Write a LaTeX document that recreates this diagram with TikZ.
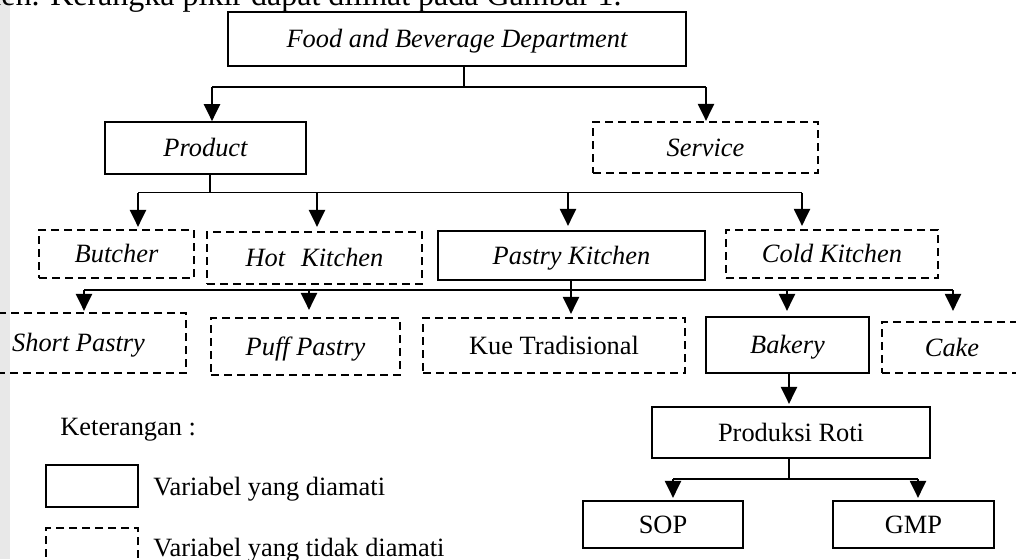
\documentclass[tikz,border=0pt]{standalone}
\usepackage{fontspec}
\setmainfont{Liberation Serif}
\usetikzlibrary{arrows.meta}
\begin{document}
\begin{tikzpicture}[x=0.5pt,y=-0.5pt,
  box/.style={draw, line width=1.1pt, inner sep=0pt, text height=8.7pt, text depth=0pt, font=\fontsize{13.2}{16}\selectfont\itshape},
  dbox/.style={box, dash pattern=on 4pt off 2.5pt},
  up/.style={font=\fontsize{13.2}{16}\selectfont\upshape},
  plain/.style={inner sep=0pt, up},
  link/.style={line width=0.6pt},
  arr/.style={line width=1.1pt, -{Triangle[length=8.5pt,width=8pt]}},
]
\useasboundingbox (0,0) rectangle (1016,559);
\fill[black!9] (0,0) rectangle (10,559);

% cropped line of body text at the top
\node[inner sep=0pt, anchor=base east, font=\fontsize{16}{19}\selectfont] (toptext) at (622,5.5) {men. Kerangka pikir dapat dilihat pada Gambar 1.};

% boxes
\node[box, minimum width=229pt, minimum height=27pt] (fbd) at (457,39) {Food and Beverage Department};
\node[box, minimum width=100.5pt, minimum height=25.75pt] (product) at (205.5,148) {Product};
\node[dbox, minimum width=112.5pt, minimum height=25.5pt] (service) at (705.5,147.5) {Service};
\node[dbox, minimum width=77.5pt, minimum height=24pt] (butcher) at (116.5,254) {Butcher};
\node[dbox, minimum width=107.5pt, minimum height=26pt] (hot) at (314.5,258) {Hot\hspace{8pt}Kitchen};
\node[box, minimum width=133.5pt, minimum height=24.5pt] (pastry) at (571.5,255.5) {Pastry Kitchen};
\node[dbox, minimum width=106pt, minimum height=24pt] (cold) at (832,254) {Cold Kitchen};
\node[dbox, minimum width=107.5pt, minimum height=30pt] (short) at (78.5,343) {Short Pastry};
\node[dbox, minimum width=94.5pt, minimum height=28.5pt] (puff) at (305.5,346.5) {Puff Pastry};
\node[dbox, up, minimum width=131pt, minimum height=27.5pt] (kue) at (554,345.5) {Kue Tradisional};
\node[box, minimum width=81.5pt, minimum height=28pt] (bakery) at (787.5,345) {Bakery};
\node[dbox, minimum width=70pt, minimum height=25.5pt] (cake) at (952,347.5) {Cake};
\node[box, up, minimum width=139pt, minimum height=25.5pt] (roti) at (791,432.5) {Produksi Roti};
\node[box, up, minimum width=80pt, minimum height=23.5pt] (sop) at (663,524.5) {SOP};
\node[box, up, minimum width=80.5pt, minimum height=23.5pt] (gmp) at (913.5,524.5) {GMP};

% legend
\node[plain, anchor=base west] (ket) at (60,435) {Keterangan :};
\node[box, minimum width=46pt, minimum height=21pt] (lg1) at (92,486) {};
\node[dbox, minimum width=46pt, minimum height=21pt] (lg2) at (92,549) {};
\node[plain, anchor=base west] (lt1) at (153,495) {Variabel yang diamati};
\node[plain, anchor=base west] (lt2) at (153,556.5) {Variabel yang tidak diamati};

% level 1
\coordinate (s1) at (464,87);
\coordinate (b1l) at (212,87);
\coordinate (b1r) at (706,87);
\draw[link] (fbd.south -| s1) -- (s1);
\draw[link] (b1l) -- (b1r);
\draw[arr] (b1l) -- (b1l |- product.north);
\draw[arr] (b1r) -- (b1r |- service.north);

% level 2
\coordinate (s2) at (210,192.5);
\coordinate (b2a) at (138,192.5);
\coordinate (b2b) at (317,192.5);
\coordinate (b2c) at (568,192.5);
\coordinate (b2d) at (802,192.5);
\draw[link] (product.south -| s2) -- (s2);
\draw[link] (b2a) -- (b2d);
\draw[arr, shorten >=1pt] (b2a) -- (b2a |- butcher.north);
\draw[arr, shorten >=2pt] (b2b) -- (b2b |- hot.north);
\draw[arr, shorten >=2pt] (b2c) -- (b2c |- pastry.north);
\draw[arr, shorten >=1.5pt] (b2d) -- (b2d |- cold.north);

% level 3
\coordinate (b3a) at (84,290);
\coordinate (b3b) at (309,290);
\coordinate (b3c) at (571,290);
\coordinate (b3d) at (787,290);
\coordinate (b3e) at (953,290);
\draw[link] (b3a) -- (b3e);
\draw[arr, shorten >=1.5pt] (pastry.south -| b3c) -- (b3c |- kue.north);
\draw[arr, shorten >=0.5pt] (b3a) -- (b3a |- short.north);
\draw[arr, shorten >=3.5pt] (b3b) -- (b3b |- puff.north);
\draw[arr, shorten >=2.5pt] (b3d) -- (b3d |- bakery.north);
\draw[arr, shorten >=5pt] (b3e) -- (b3e |- cake.north);

% level 4
\coordinate (s4) at (789,479);
\draw[arr, shorten >=1pt] (bakery.south -| s4) -- (roti.north -| s4);
\coordinate (b5a) at (673,479);
\coordinate (b5b) at (918,479);
\draw[link] (roti.south -| s4) -- (s4);
\draw[link] (b5a) -- (b5b);
\draw[arr, shorten >=1pt] (b5a) -- (b5a |- sop.north);
\draw[arr, shorten >=1pt] (b5b) -- (b5b |- gmp.north);
\end{tikzpicture}
\end{document}
